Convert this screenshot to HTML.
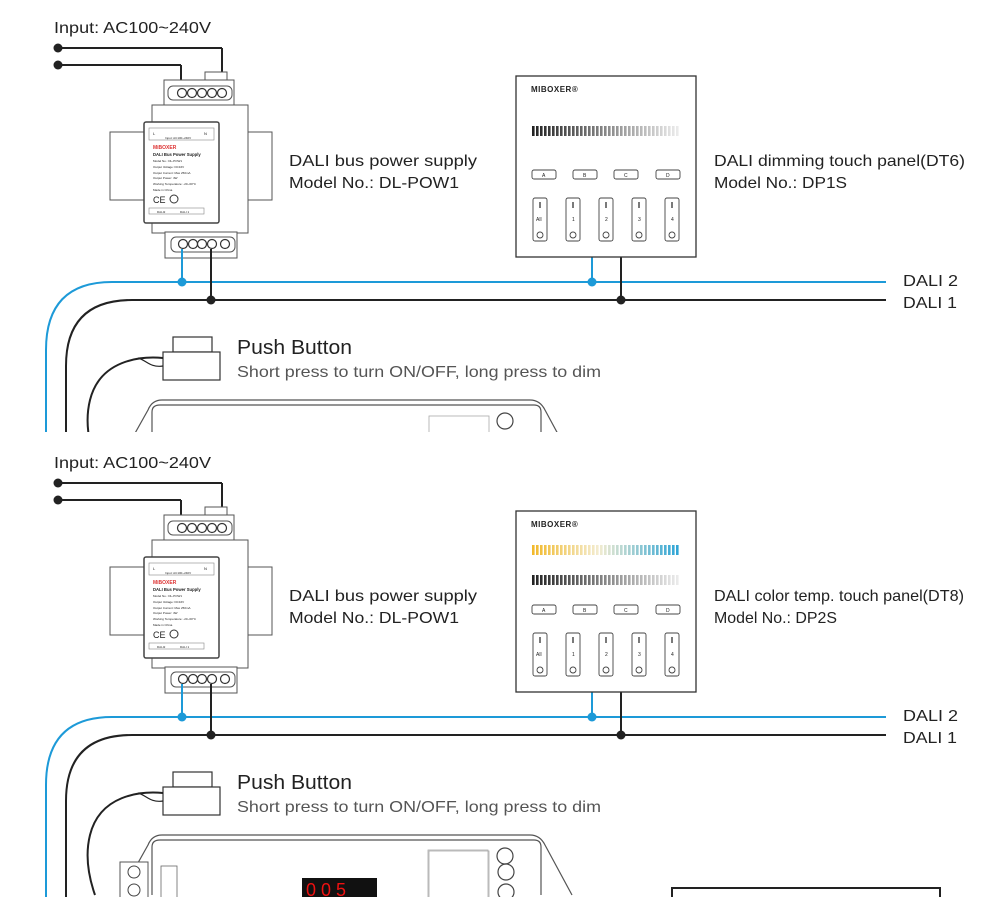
<!DOCTYPE html>
<html><head><meta charset="utf-8"><style>
html,body{margin:0;padding:0;background:#fff;overflow:hidden;width:1000px;height:897px}
svg{display:block}
text{font-family:"Liberation Sans",Arial,sans-serif;fill:#222}
</style></head><body>
<svg width="1000" height="897" viewBox="0 0 1000 897" xmlns="http://www.w3.org/2000/svg">
<defs>
<clipPath id="top"><rect x="0" y="0" width="1000" height="432"/></clipPath>
<linearGradient id="gray" x1="0" x2="1"><stop offset="0" stop-color="#222"/><stop offset="1" stop-color="#eee"/></linearGradient>
<linearGradient id="warm" x1="0" x2="1"><stop offset="0" stop-color="#f2b92a"/><stop offset="0.45" stop-color="#f3ecd0"/><stop offset="1" stop-color="#2aa3d6"/></linearGradient>
<pattern id="stripes" width="4" height="10" patternUnits="userSpaceOnUse"><rect x="2.6" y="0" width="1.4" height="10" fill="#fff"/></pattern>
<g id="psu">
  <line x1="58" y1="48" x2="222" y2="48" stroke="#222" stroke-width="2"/>
  <line x1="222" y1="48" x2="222" y2="92" stroke="#222" stroke-width="2"/>
  <line x1="58" y1="65" x2="181" y2="65" stroke="#222" stroke-width="2"/>
  <line x1="181" y1="65" x2="181" y2="92" stroke="#222" stroke-width="2"/>
  <circle cx="58" cy="48" r="4.5" fill="#222"/>
  <circle cx="58" cy="65" r="4.5" fill="#222"/>
  <rect x="110" y="132" width="44" height="68" fill="#fff" stroke="#555" stroke-width="1"/>
  <rect x="246" y="132" width="26" height="68" fill="#fff" stroke="#555" stroke-width="1"/>
  <rect x="205" y="72" width="22" height="10" fill="#fff" stroke="#555"/>
  <rect x="164" y="80" width="70" height="25" fill="#fff" stroke="#555"/>
  <rect x="152" y="105" width="96" height="128" fill="#fff" stroke="#555"/>
  <rect x="165" y="232" width="72" height="26" fill="#fff" stroke="#555"/>
  <rect x="168" y="86" width="64" height="14" rx="5" fill="#fff" stroke="#555"/>
  <g fill="#fff" stroke="#333" stroke-width="1.2">
    <circle cx="182" cy="93" r="4.5"/><circle cx="192" cy="93" r="4.5"/><circle cx="202" cy="93" r="4.5"/><circle cx="212" cy="93" r="4.5"/><circle cx="222" cy="93" r="4.5"/>
  </g>
  <rect x="171" y="237" width="64" height="15" rx="5" fill="#fff" stroke="#555"/>
  <g fill="#fff" stroke="#333" stroke-width="1.2">
    <circle cx="183" cy="244" r="4.5"/><circle cx="193" cy="244" r="4.5"/><circle cx="202" cy="244" r="4.5"/><circle cx="212" cy="244" r="4.5"/><circle cx="225" cy="244" r="4.5"/>
  </g>
  <rect x="144" y="122" width="75" height="101" rx="2" fill="#fff" stroke="#444" stroke-width="1.5"/>
  <rect x="149" y="128" width="65" height="12" fill="#fff" stroke="#888" stroke-width="0.6"/>
  <text x="153" y="135" font-size="4">L</text><text x="204" y="135" font-size="4">N</text>
  <text x="165" y="139" font-size="3">Input: AC100~240V</text>
  <text x="153" y="149" font-size="5" style="fill:#d33" font-weight="bold">MiBOXER</text>
  <text x="153" y="156" font-size="4.2" font-weight="bold">DALI Bus Power Supply</text>
  <g font-size="3">
  <text x="153" y="162">Model No.: DL-POW1</text>
  <text x="153" y="168">Output Voltage: DC16V</text>
  <text x="153" y="174">Output Current: Max 250mA</text>
  <text x="153" y="179">Output Power: 4W</text>
  <text x="153" y="185">Working Temperature: -20~60°C</text>
  <text x="153" y="191">Made in China</text>
  </g>
  <text x="153" y="203" font-size="9">CE</text>
  <circle cx="174" cy="199" r="4" fill="none" stroke="#333"/>
  <rect x="149" y="208" width="55" height="6" fill="#fff" stroke="#888" stroke-width="0.6"/>
  <text x="157" y="213" font-size="3">DALI2</text><text x="180" y="213" font-size="3">DALI 1</text>
  <line x1="182" y1="249" x2="182" y2="282" stroke="#1d9ad8" stroke-width="2"/>
  <line x1="211" y1="249" x2="211" y2="300" stroke="#222" stroke-width="2"/>
  <text x="54" y="33" font-size="16" textLength="157" lengthAdjust="spacingAndGlyphs">Input: AC100~240V</text>
  <text x="289" y="166" font-size="16" textLength="188" lengthAdjust="spacingAndGlyphs">DALI bus power supply</text>
  <text x="289" y="188" font-size="16" textLength="170" lengthAdjust="spacingAndGlyphs">Model No.: DL-POW1</text>
</g>
<g id="bus">
  <path d="M886 282 H112 Q46 282 46 350 V1000" fill="none" stroke="#1d9ad8" stroke-width="2"/>
  <path d="M886 300 H132 Q66 300 66 366 V1000" fill="none" stroke="#222" stroke-width="2"/>
  <circle cx="182" cy="282" r="4.5" fill="#1d9ad8"/>
  <circle cx="211" cy="300" r="4.5" fill="#222"/>
  <line x1="592" y1="257" x2="592" y2="282" stroke="#1d9ad8" stroke-width="2"/>
  <line x1="621" y1="257" x2="621" y2="300" stroke="#222" stroke-width="2"/>
  <circle cx="592" cy="282" r="4.5" fill="#1d9ad8"/>
  <circle cx="621" cy="300" r="4.5" fill="#222"/>
  <text x="903" y="286" font-size="16" textLength="55" lengthAdjust="spacingAndGlyphs">DALI 2</text>
  <text x="903" y="308" font-size="16" textLength="54" lengthAdjust="spacingAndGlyphs">DALI 1</text>
  <rect x="173" y="337" width="39" height="15" fill="#fff" stroke="#333" stroke-width="1.2"/>
  <rect x="163" y="352" width="57" height="28" fill="#fff" stroke="#333" stroke-width="1.2"/>
  <path d="M163 358 C140 356 100 360 90 400 C85 420 88 440 95 460" fill="none" stroke="#222" stroke-width="2"/>
  <path d="M163 366 C150 368 146 360 138 358" fill="none" stroke="#222" stroke-width="1.2"/>
  <text x="237" y="354" font-size="20" textLength="115" lengthAdjust="spacingAndGlyphs">Push Button</text>
  <text x="237" y="377" font-size="16" style="fill:#555" textLength="364" lengthAdjust="spacingAndGlyphs">Short press to turn ON/OFF, long press to dim</text>
  <path d="M120 460 L148 410 Q152 400 162 400 H530 Q540 400 545 410 L572 460" fill="none" stroke="#555" stroke-width="1.2"/>
  <path d="M152 460 V412 Q152 405 160 405 H534 Q541 405 541 412 V460" fill="none" stroke="#555" stroke-width="1.2"/>
  <rect x="429" y="416" width="60" height="60" fill="none" stroke="#aaa" stroke-width="0.8"/>
  <circle cx="505" cy="421" r="8" fill="none" stroke="#444" stroke-width="1.2"/>
</g>
<g id="panel">
  <rect x="516" y="76" width="180" height="181" fill="#fff" stroke="#333" stroke-width="1.3"/>
  <text x="531" y="92" font-size="8" font-weight="bold" letter-spacing="0.5">MIBOXER®</text>
  <g fill="#fff" stroke="#444" stroke-width="0.9">
    <rect x="532" y="170" width="24" height="9" rx="2"/><rect x="573" y="170" width="24" height="9" rx="2"/>
    <rect x="614" y="170" width="24" height="9" rx="2"/><rect x="656" y="170" width="24" height="9" rx="2"/>
    <rect x="533" y="198" width="14" height="43" rx="2"/><rect x="566" y="198" width="14" height="43" rx="2"/>
    <rect x="599" y="198" width="14" height="43" rx="2"/><rect x="632" y="198" width="14" height="43" rx="2"/>
    <rect x="665" y="198" width="14" height="43" rx="2"/>
    <circle cx="540" cy="235" r="3"/><circle cx="573" cy="235" r="3"/><circle cx="606" cy="235" r="3"/><circle cx="639" cy="235" r="3"/><circle cx="672" cy="235" r="3"/>
  </g>
  <g font-size="5"><text x="542" y="177">A</text><text x="583" y="177">B</text><text x="624" y="177">C</text><text x="666" y="177">D</text>
  <text x="536" y="221">All</text><text x="572" y="221">1</text><text x="605" y="221">2</text><text x="638" y="221">3</text><text x="671" y="221">4</text></g>
  <g stroke="#222" stroke-width="1.2"><line x1="540" y1="202" x2="540" y2="208"/><line x1="573" y1="202" x2="573" y2="208"/><line x1="606" y1="202" x2="606" y2="208"/><line x1="639" y1="202" x2="639" y2="208"/><line x1="672" y1="202" x2="672" y2="208"/></g>
</g>
</defs>

<g clip-path="url(#top)">
  <use href="#bus"/>
  <use href="#psu"/>
  <use href="#panel"/>
  <rect x="532" y="126" width="148" height="10" fill="url(#gray)"/>
  <rect x="532" y="126" width="148" height="10" fill="url(#stripes)"/>
  <text x="714" y="166" font-size="16" textLength="251" lengthAdjust="spacingAndGlyphs">DALI dimming touch panel(DT6)</text>
  <text x="714" y="188" font-size="16" textLength="133" lengthAdjust="spacingAndGlyphs">Model No.: DP1S</text>
</g>

<g transform="translate(0,435)">
  <use href="#bus"/>
  <use href="#psu"/>
  <use href="#panel"/>
  <rect x="532" y="110" width="148" height="10" fill="url(#warm)"/>
  <rect x="532" y="110" width="148" height="10" fill="url(#stripes)"/>
  <rect x="532" y="140" width="148" height="10" fill="url(#gray)"/>
  <rect x="532" y="140" width="148" height="10" fill="url(#stripes)"/>
  <text x="714" y="166" font-size="16" textLength="250" lengthAdjust="spacingAndGlyphs">DALI color temp. touch panel(DT8)</text>
  <text x="714" y="188" font-size="16" textLength="123" lengthAdjust="spacingAndGlyphs">Model No.: DP2S</text>
</g>
<rect x="120" y="862" width="28" height="40" fill="#fff" stroke="#555"/>
<circle cx="134" cy="872" r="6" fill="none" stroke="#444"/>
<circle cx="134" cy="890" r="6" fill="none" stroke="#444"/>
<rect x="161" y="866" width="16" height="40" fill="none" stroke="#666" stroke-width="0.8"/>
<rect x="302" y="878" width="75" height="22" fill="#111"/>
<text x="306" y="896" font-size="18" style="fill:#e11" font-family="Liberation Mono">0 0 5</text>
<rect x="428" y="850" width="60" height="50" fill="none" stroke="#aaa" stroke-width="0.8"/>
<circle cx="506" cy="872" r="8" fill="none" stroke="#444" stroke-width="1.2"/>
<circle cx="506" cy="892" r="8" fill="none" stroke="#444" stroke-width="1.2"/>
<rect x="672" y="888" width="268" height="20" fill="none" stroke="#222" stroke-width="2"/>
</svg>
</body></html>
